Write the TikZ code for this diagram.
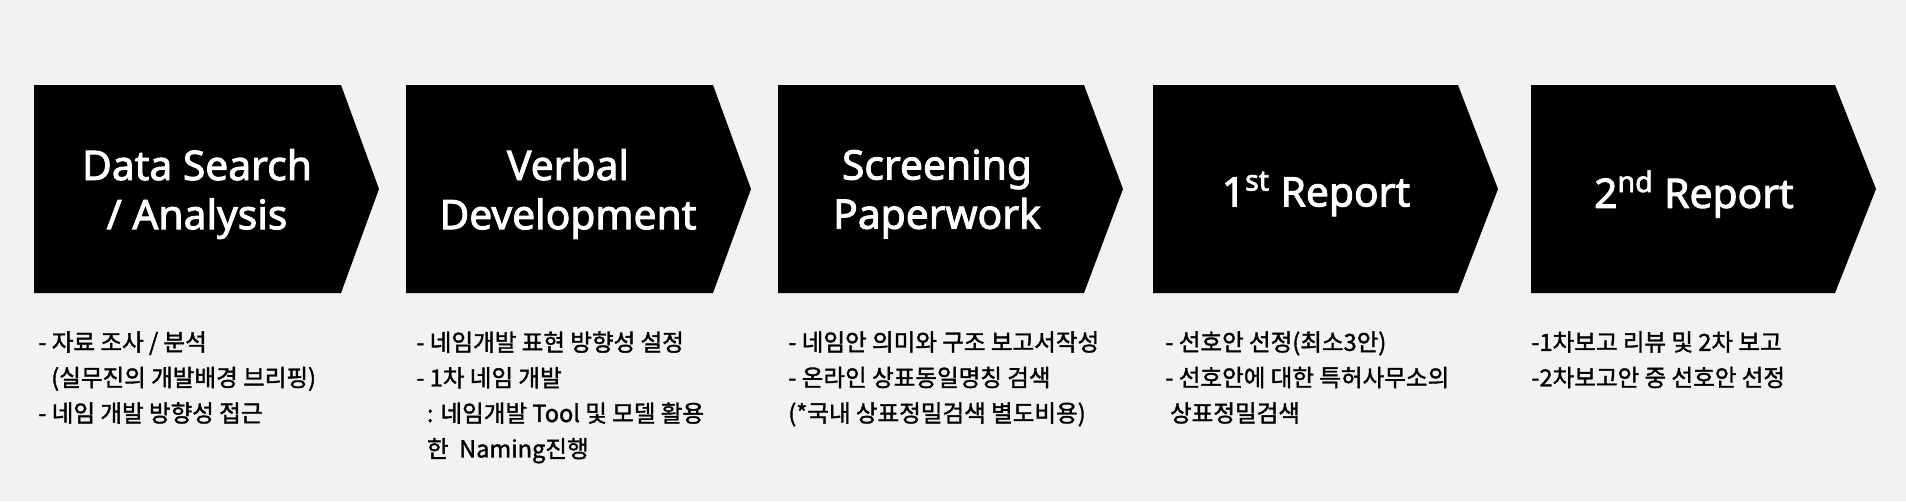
\documentclass[tikz,border=0pt]{standalone}
\usepackage{fontspec}
\setmainfont{Noto Sans CJK KR}[FakeBold=1.5]
\newfontfamily\ttlfont{Noto Sans}[FakeBold=2.2]
\usetikzlibrary{positioning}
\definecolor{pagebg}{HTML}{F2F2F2}
\tikzset{
  chev/.style={fill=black},
  ttl/.style={text=white,align=center,inner sep=0pt,font=\ttlfont\fontsize{23.2}{28}\selectfont},
  lst/.style={anchor=north west,align=left,inner sep=0pt,text=black,font=\fontsize{13.4}{20.2}\selectfont}
}
\begin{document}
\begin{tikzpicture}[x=0.02cm,y=-0.02cm]
\fill[pagebg] (0,0) rectangle (1906,501);
\useasboundingbox (0,0) rectangle (1906,501);
% chevrons
\fill[chev] (34,85) -- ++(307,0) -- ++(38,104) -- ++(-38,104) -- ++(-307,0) -- cycle;
\fill[chev] (406,85) -- ++(307,0) -- ++(38,104) -- ++(-38,104) -- ++(-307,0) -- cycle;
\fill[chev] (778,85) -- ++(306,0) -- ++(39,104) -- ++(-39,104) -- ++(-306,0) -- cycle;
\fill[chev] (1153,85) -- ++(305,0) -- ++(40,104) -- ++(-40,104) -- ++(-305,0) -- cycle;
\fill[chev] (1531,85) -- ++(304,0) -- ++(41,104) -- ++(-41,104) -- ++(-304,0) -- cycle;
% titles
\node[ttl] (t1) at (197,194) {Data Search\\/ Analysis};
\node[ttl] (t2) at (568,194) {Verbal\\Development};
\node[ttl] (t3) at (937,194) {Screening\\Paperwork};
\node[ttl] (t4) at (1316,194) {1\textsuperscript{st} Report};
\node[ttl] (t5) at (1694,194) {2\textsuperscript{nd} Report};
% notes
\node[lst] (l1) at (38,331) {- 자료 조사 / 분석\\\hspace{0.55em}(실무진의 개발배경 브리핑)\\- 네임 개발 방향성 접근};
\node[lst] (l2) at (416,331) {- 네임개발 표현 방향성 설정\\- 1차 네임 개발\\\hspace{0.45em}: 네임개발 Tool 및 모델 활용\\\hspace{0.45em}한\ \ Naming진행};
\node[lst] (l3) at (788,331) {- 네임안 의미와 구조 보고서작성\\- 온라인 상표동일명칭 검색\\(*국내 상표정밀검색 별도비용)};
\node[lst] (l4) at (1165,331) {- 선호안 선정(최소3안)\\- 선호안에 대한 특허사무소의\\\hspace{0.2em}상표정밀검색};
\node[lst] (l5) at (1531,331) {-1차보고 리뷰 및 2차 보고\\-2차보고안 중 선호안 선정};
\end{tikzpicture}
\end{document}
